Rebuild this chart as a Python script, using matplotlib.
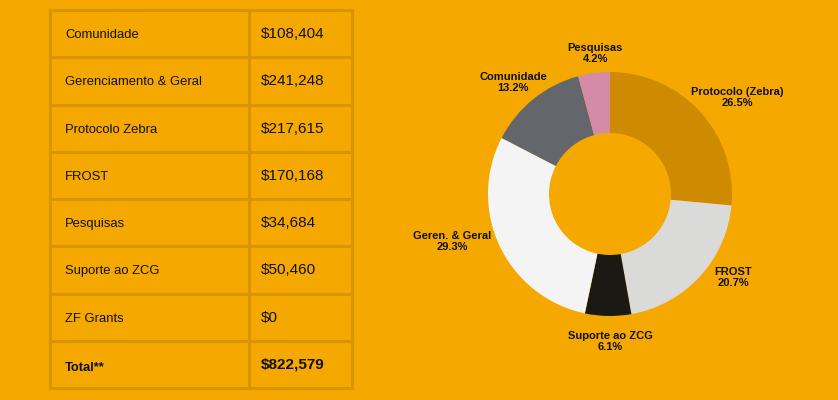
import matplotlib
matplotlib.use("Agg")
import matplotlib.pyplot as plt
import numpy as np

# ---- data ----
table_categories = ["Comunidade", "Gerenciamento & Geral", "Protocolo Zebra", "FROST",
                    "Pesquisas", "Suporte ao ZCG", "ZF Grants", "Total**"]
table_values = ["$108,404", "$241,248", "$217,615", "$170,168",
                "$34,684", "$50,460", "$0", "$822,579"]

pie_labels = ["Protocolo (Zebra)", "FROST", "Suporte ao ZCG", "Geren. & Geral",
              "Comunidade", "Pesquisas"]
pie_values = [26.5, 20.7, 6.1, 29.3, 13.2, 4.2]
pie_colors = ["#CE8A00", "#DADAD8", "#1A1914", "#F4F4F4", "#63666A", "#D48CA6"]

BG = "#F5A800"
BORDER = "#D99400"

plt.rcParams['font.family'] = ['Liberation Sans', 'DejaVu Sans']

W, H = 838, 400
fig = plt.figure(figsize=(W / 100, H / 100), dpi=100, facecolor=BG)

# ---- table (pixel coordinates) ----
ax0 = fig.add_axes([0, 0, 1, 1])
ax0.set_xlim(0, W)
ax0.set_ylim(H, 0)
ax0.axis("off")
ax0.set_facecolor(BG)

left, right, mid = 50, 352, 249
top, bottom = 10, 388
n = len(table_categories)
row_h = (bottom - top) / n
lw = 2.2
for i in range(n + 1):
    y = top + i * row_h
    ax0.plot([left, right], [y, y], color=BORDER, lw=lw, solid_capstyle="projecting")
for x in (left, mid, right):
    ax0.plot([x, x], [top, bottom], color=BORDER, lw=lw, solid_capstyle="projecting")

for i, (c, v) in enumerate(zip(table_categories, table_values)):
    yc = top + (i + 0.5) * row_h + 1.5
    bold = (i == n - 1)
    ax0.text(65, yc + (2 if bold else 0), c, fontsize=9.4, color="#111111", va="center", ha="left",
             fontweight="bold" if bold else "normal")
    ax0.text(261, yc - 1.0, v, fontsize=11, color="#111111", va="center", ha="left",
             fontweight="bold" if bold else "normal")

# ---- donut ----
cx, cy, r = 610, 194, 122
ax1 = fig.add_axes([(cx - r) / W, (H - cy - r) / H, 2 * r / W, 2 * r / H])
ax1.set_facecolor("none")
wedges, _ = ax1.pie(pie_values, colors=pie_colors, startangle=90, counterclock=False,
                    radius=1.0, wedgeprops=dict(width=0.5, edgecolor="none"))
ax1.set_xlim(-1, 1)
ax1.set_ylim(-1, 1)
ax1.set_aspect("equal")
ax1.axis("off")

label_dist = [1.31, 1.22, 1.21, 1.35, 1.21, 1.16]
label_angle_shift = [-5, 8.5, 1, -8.5, 2, -1.6]
for w, lab, val, d, s in zip(wedges, pie_labels, pie_values, label_dist, label_angle_shift):
    ang = np.deg2rad((w.theta1 + w.theta2) / 2 + s)
    ax1.text(d * np.cos(ang), d * np.sin(ang), f"{lab}\n{val:.1f}%", ha="center", va="center",
             fontsize=8, fontweight="bold", color="#111111", linespacing=1.15,
             clip_on=False)

fig.savefig("out.png", dpi=100, facecolor=BG)
